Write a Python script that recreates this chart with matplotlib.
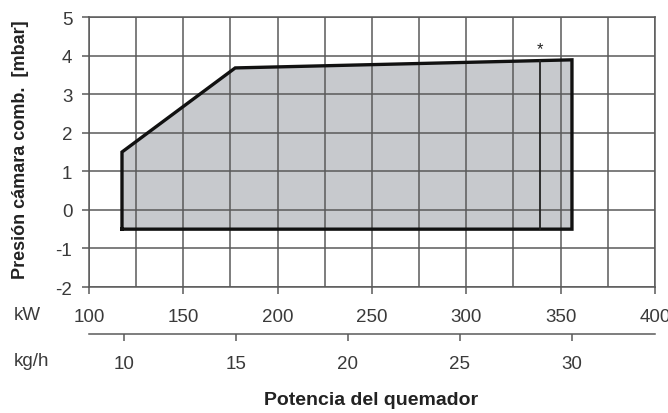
import matplotlib.pyplot as plt
from matplotlib.ticker import MultipleLocator

plt.rcParams['font.family'] = ['Liberation Sans', 'DejaVu Sans']
plt.rcParams['axes.unicode_minus'] = False

# working field outline (kW, mbar)
field_kw = [117.5, 117.5, 177.5, 356, 356]
field_mbar = [-0.5, 1.5, 3.68, 3.89, -0.5]
# marked limit inside the field
limit_kw = 339
limit_top = 3.87

kw_ticks = [100, 150, 200, 250, 300, 350, 400]
kgh_ticks = [10, 15, 20, 25, 30]
kw_per_kgh = 11.86

grid_col = '#5a5a5a'
text_col = '#3a3a3a'
fs = 13.5

fig = plt.figure(figsize=(6.68, 4.14), dpi=100)
ax = fig.add_axes([0.1332, 0.3043, 0.8473, 0.6522])

ax.fill(field_kw, field_mbar, color='#c7c9cd', zorder=1, lw=0)
ax.plot(field_kw + field_kw[:1], field_mbar + field_mbar[:1],
        color='#111111', lw=2.4, zorder=3, solid_joinstyle='miter')
ax.plot([limit_kw, limit_kw], [-0.5, limit_top], color='#222222', lw=1.3, zorder=3)
ax.text(limit_kw, 4.18, '*', ha='center', va='center', fontsize=12, color='#222222')

ax.set_xlim(100, 400)
ax.set_ylim(-2, 5)
ax.xaxis.set_major_locator(MultipleLocator(50))
ax.xaxis.set_minor_locator(MultipleLocator(25))
ax.yaxis.set_major_locator(MultipleLocator(1))
ax.grid(which='both', color=grid_col, lw=1.1, zorder=2)
ax.set_axisbelow(False)
for s in ax.spines.values():
    s.set_color(grid_col)
    s.set_linewidth(1.1)

ax.tick_params(axis='x', which='major', direction='out', length=5, width=1.1,
               color=grid_col, pad=10, labelsize=fs, labelcolor=text_col)
ax.tick_params(axis='x', which='minor', length=0)
ax.tick_params(axis='y', direction='out', length=5, width=1.1,
               color=grid_col, pad=7, labelsize=fs, labelcolor=text_col)
ax.set_xticks(kw_ticks)

# second scale in kg/h below the kW one
sec = ax.secondary_xaxis(-0.174, functions=(lambda x: x / kw_per_kgh,
                                             lambda x: x * kw_per_kgh))
sec.set_xticks(kgh_ticks)
sec.spines['bottom'].set_color(grid_col)
sec.spines['bottom'].set_linewidth(1.1)
sec.tick_params(direction='out', length=5, width=1.1, color=grid_col, pad=10,
                labelsize=fs, labelcolor=text_col)

fig.text(14 / 668, 1 - 315 / 414, 'kW', ha='left', va='center',
         fontsize=fs, color=text_col)
fig.text(14 / 668, 1 - 362 / 414, 'kg/h', ha='left', va='center',
         fontsize=fs, color=text_col)
fig.text(371 / 668, 1 - 401 / 414, 'Potencia del quemador', ha='center',
         va='center', fontsize=14, fontweight='bold', color='#222222')
fig.text(21 / 668, 1 - 150 / 414, 'Presión cámara comb.  [mbar]', ha='center',
         va='center', rotation=90, fontsize=13, fontweight='bold', color='#222222')

fig.savefig('out.png', dpi=100)
